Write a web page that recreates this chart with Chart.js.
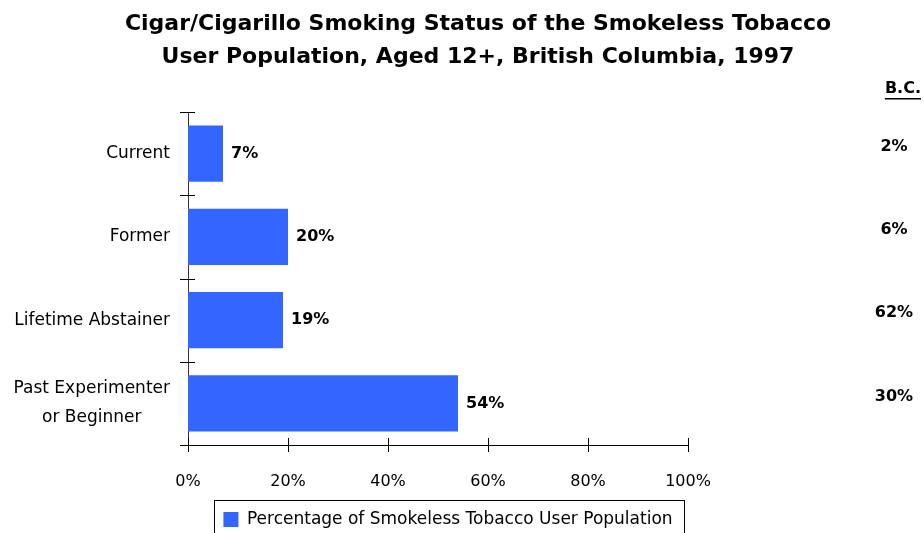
<!DOCTYPE html>
<html>
<head>
<meta charset="utf-8">
<script src="https://cdn.jsdelivr.net/npm/chart.js@4/dist/chart.umd.min.js"></script>
<style>
  body { margin: 0; background: #fff; }
  #wrap { width: 924px; height: 533px; }
</style>
</head>
<body>
<div id="wrap"><canvas id="chartBar"></canvas></div>
<script>
const categories = [["Current"], ["Former"], ["Lifetime Abstainer"], ["Past Experimenter", "or Beginner"]];
const userPct = [7, 20, 19, 54];
const bcPct = [2, 6, 62, 30];
const xTickValues = [0, 20, 40, 60, 80, 100];
const titleLines = ["Cigar/Cigarillo Smoking Status of the Smokeless Tobacco", "User Population, Aged 12+, British Columbia, 1997"];
const seriesLabel = "Percentage of Smokeless Tobacco User Population";
const bcHeader = "B.C.";

const FONT = "'DejaVu Sans', sans-serif";
const BLUE = "#3366ff";
const LEGEND_SIZE = 17;

Chart.defaults.font.family = FONT;
Chart.defaults.color = "#000";

// tick marks that cross both axis lines
const crossTicks = {
  id: "crossTicks",
  afterDraw: chart => {
    const ctx = chart.ctx;
    const x = chart.scales.x;
    const y = chart.scales.y;
    ctx.save();
    ctx.strokeStyle = "#000";
    ctx.lineWidth = 1;
    ctx.beginPath();
    for (let i = -0.5; i <= categories.length - 0.5; i++) {
      const py = Math.round(y.getPixelForValue(i)) + 0.5;
      ctx.moveTo(x.left - 8, py);
      ctx.lineTo(x.left + 7, py);
    }
    xTickValues.forEach(v => {
      const px = Math.round(x.getPixelForValue(v)) + 0.5;
      ctx.moveTo(px, y.bottom - 7);
      ctx.lineTo(px, y.bottom + 7);
    });
    ctx.stroke();
    ctx.restore();
  },
};

// category labels: block right-aligned to the axis, lines centred in the block
const categoryLabels = {
  id: "categoryLabels",
  afterDraw: chart => {
    const ctx = chart.ctx;
    const y = chart.scales.y;
    const right = chart.chartArea.left - 18;
    const lineH = 29;
    ctx.save();
    ctx.fillStyle = "#000";
    ctx.font = "17px " + FONT;
    ctx.textAlign = "center";
    ctx.textBaseline = "middle";
    categories.forEach((lines, i) => {
      const w = Math.max(...lines.map(l => ctx.measureText(l).width));
      const cx = right - w / 2;
      const cy = y.getPixelForValue(i);
      lines.forEach((l, j) => {
        ctx.fillText(l, cx, cy + (j - (lines.length - 1) / 2) * lineH);
      });
    });
    ctx.restore();
  },
};

// value labels at bar ends and the B.C. comparison column
const valueLabels = {
  id: "valueLabels",
  afterDatasetsDraw: chart => {
    const ctx = chart.ctx;
    const meta = chart.getDatasetMeta(0);
    ctx.save();
    ctx.fillStyle = "#000";
    ctx.font = "bold 16px " + FONT;
    ctx.textBaseline = "middle";
    ctx.textAlign = "left";
    meta.data.forEach((bar, i) => {
      ctx.fillText(userPct[i] + "%", bar.x + 8, bar.y);
    });

    const colX = chart.width - 30;
    ctx.textAlign = "center";
    meta.data.forEach((bar, i) => {
      ctx.fillText(bcPct[i] + "%", colX, bar.y - 7);
    });
    ctx.textAlign = "right";
    ctx.fillText(bcHeader, chart.width - 3, 89);
    const w = ctx.measureText(bcHeader).width;
    ctx.fillRect(chart.width - 3 - w, 98, w, 1.5);
    ctx.restore();
  },
};

// nudge the legend and frame it
const legendBorder = {
  id: "legendBorder",
  afterLayout: chart => {
    const lg = chart.legend;
    lg.left += 10;
    lg.right += 10;
  },
  afterDraw: chart => {
    const lg = chart.legend;
    const ctx = chart.ctx;
    ctx.save();
    ctx.font = LEGEND_SIZE + "px " + FONT;
    const itemW = 15 + LEGEND_SIZE / 2 + ctx.measureText(seriesLabel).width;
    const cx = (lg.left + lg.right) / 2;
    const left = Math.round(cx - itemW / 2 - 9) + 0.5;
    const right = Math.round(cx + itemW / 2 + 11) + 0.5;
    const top = Math.round(lg.top - 7) + 0.5;
    ctx.strokeStyle = "#000";
    ctx.lineWidth = 1;
    ctx.strokeRect(left, top, right - left, 45);
    ctx.restore();
  },
};

const chart = new Chart(document.getElementById("chartBar").getContext("2d"), {
  type: "bar",
  data: {
    labels: categories,
    datasets: [
      {
        label: seriesLabel,
        data: userPct,
        backgroundColor: BLUE,
        categoryPercentage: 0.673,
        barPercentage: 1,
      },
    ],
  },
  options: {
    indexAxis: "y",
    responsive: true,
    maintainAspectRatio: false,
    animation: false,
    layout: { padding: { left: 32, right: 0, top: 6, bottom: -5 } },
    plugins: {
      title: {
        display: true,
        text: titleLines,
        font: { size: 22, weight: "bold", lineHeight: 1.5 },
        padding: { top: 2, bottom: 38 },
        color: "#000",
      },
      legend: {
        position: "bottom",
        fullSize: false,
        labels: {
          boxWidth: 15,
          boxHeight: 15,
          font: { size: LEGEND_SIZE },
          padding: 4,
          color: "#000",
        },
      },
      tooltip: { enabled: false },
    },
    scales: {
      x: {
        min: 0,
        max: 100,
        afterBuildTicks: axis => {
          axis.ticks = xTickValues.map(v => ({ value: v }));
        },
        afterFit: axis => {
          axis.height = 62;
        },
        ticks: {
          callback: v => v + "%",
          font: { size: 16 },
          padding: 27,
          color: "#000",
          maxRotation: 0,
        },
        grid: { display: false, drawTicks: false },
        border: { display: true, color: "#000", width: 1 },
      },
      y: {
        afterFit: axis => {
          axis.width = 156;
        },
        ticks: { display: false },
        grid: { display: false, drawTicks: false },
        border: { display: true, color: "#333", width: 1 },
      },
      yRight: {
        type: "category",
        position: "right",
        afterFit: axis => {
          axis.width = 236;
        },
        ticks: { display: false },
        grid: { display: false, drawTicks: false },
        border: { display: false },
      },
    },
  },
  plugins: [crossTicks, categoryLabels, valueLabels, legendBorder],
});
</script>
</body>
</html>
